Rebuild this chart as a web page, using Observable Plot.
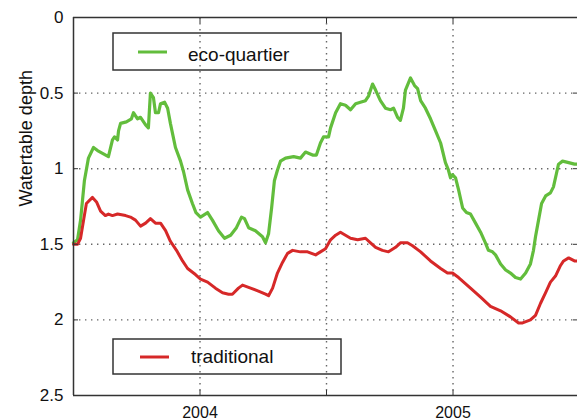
<!DOCTYPE html>
<html><head><meta charset="utf-8">
<script src="https://cdn.jsdelivr.net/npm/d3@7"></script>
<script src="https://cdn.jsdelivr.net/npm/@observablehq/plot@0.6"></script>
<style>
body{margin:0;background:#fff;}
#chart{position:relative;width:577px;height:420px;overflow:hidden;}
#chart svg.legend{position:absolute;left:0;top:0;pointer-events:none;}
</style></head><body><div id="chart"></div>
<script>
const ecoYears = [2003.500,2003.516,2003.528,2003.543,2003.559,2003.579,2003.595,2003.638,2003.654,2003.662,
2003.674,2003.678,2003.686,2003.709,2003.729,2003.737,2003.753,2003.765,2003.785,2003.796,
2003.804,2003.816,2003.824,2003.836,2003.844,2003.860,2003.872,2003.883,2003.903,2003.923,
2003.935,2003.951,2003.970,2003.984,2004.002,2004.030,2004.049,2004.073,2004.097,2004.121,
2004.144,2004.164,2004.176,2004.192,2004.219,2004.247,2004.259,2004.271,2004.283,2004.294,
2004.306,2004.318,2004.338,2004.370,2004.397,2004.417,2004.445,2004.460,2004.476,2004.488,
2004.508,2004.516,2004.536,2004.555,2004.575,2004.595,2004.615,2004.634,2004.654,2004.666,
2004.682,2004.694,2004.713,2004.733,2004.753,2004.765,2004.781,2004.792,2004.804,2004.812,
2004.832,2004.848,2004.860,2004.872,2004.891,2004.911,2004.931,2004.951,2004.970,2004.982,
2004.990,2004.998,2005.010,2005.022,2005.038,2005.053,2005.069,2005.089,2005.109,2005.128,
2005.140,2005.156,2005.168,2005.188,2005.208,2005.227,2005.247,2005.267,2005.287,2005.306,
2005.318,2005.326,2005.338,2005.350,2005.366,2005.385,2005.397,2005.409,2005.417,2005.433,
2005.457,2005.480,2005.492];
const ecoDepth = [1.49,1.47,1.34,1.08,0.93,0.86,0.88,0.92,0.81,0.79,
0.81,0.75,0.70,0.69,0.67,0.63,0.67,0.66,0.71,0.73,
0.50,0.53,0.63,0.63,0.57,0.56,0.60,0.70,0.86,0.95,
1.02,1.14,1.23,1.29,1.32,1.29,1.34,1.41,1.46,1.44,
1.39,1.32,1.33,1.39,1.41,1.45,1.49,1.43,1.26,1.08,
1.01,0.95,0.93,0.92,0.93,0.89,0.91,0.91,0.83,0.79,
0.79,0.73,0.63,0.57,0.58,0.61,0.57,0.56,0.55,0.52,
0.44,0.48,0.55,0.60,0.61,0.60,0.66,0.68,0.60,0.48,
0.40,0.45,0.47,0.55,0.60,0.67,0.75,0.83,0.96,1.01,
1.06,1.04,1.06,1.14,1.26,1.29,1.30,1.36,1.42,1.49,
1.54,1.55,1.57,1.63,1.67,1.69,1.72,1.73,1.69,1.63,
1.54,1.45,1.34,1.23,1.18,1.16,1.12,1.03,0.97,0.95,
0.96,0.97,0.97];
const tradYears = [2003.500,2003.516,2003.528,2003.540,2003.551,2003.575,2003.591,2003.607,2003.626,2003.638,
2003.654,2003.674,2003.706,2003.725,2003.745,2003.765,2003.785,2003.804,2003.824,2003.844,
2003.864,2003.883,2003.907,2003.931,2003.951,2003.982,2004.002,2004.030,2004.061,2004.089,
2004.113,2004.128,2004.152,2004.168,2004.200,2004.231,2004.259,2004.271,2004.287,2004.306,
2004.326,2004.346,2004.366,2004.397,2004.425,2004.457,2004.476,2004.496,2004.516,2004.536,
2004.555,2004.575,2004.595,2004.623,2004.654,2004.674,2004.694,2004.721,2004.745,2004.773,
2004.792,2004.820,2004.840,2004.872,2004.911,2004.951,2004.978,2004.998,2005.022,2005.069,
2005.109,2005.148,2005.188,2005.227,2005.259,2005.275,2005.306,2005.326,2005.346,2005.366,
2005.385,2005.405,2005.425,2005.437,2005.457,2005.480,2005.492];
const tradDepth = [1.50,1.50,1.46,1.34,1.23,1.19,1.22,1.28,1.31,1.30,
1.31,1.30,1.31,1.32,1.34,1.38,1.36,1.33,1.36,1.36,
1.41,1.48,1.54,1.61,1.66,1.70,1.73,1.75,1.79,1.82,
1.83,1.83,1.79,1.77,1.79,1.81,1.83,1.84,1.79,1.69,
1.62,1.56,1.54,1.55,1.55,1.57,1.55,1.53,1.47,1.44,
1.42,1.44,1.46,1.47,1.46,1.49,1.52,1.54,1.55,1.52,
1.49,1.49,1.51,1.55,1.61,1.66,1.69,1.69,1.72,1.79,
1.85,1.91,1.94,1.98,2.02,2.02,2.00,1.97,1.89,1.82,
1.75,1.71,1.64,1.61,1.59,1.61,1.61];
const yTicks = [0, 0.5, 1, 1.5, 2, 2.5];
const xTicks = [2004, 2004.5, 2005];
const xTickLabels = {2004: "2004", 2005: "2005"};
const seriesNames = ["eco-quartier", "traditional"];
const seriesColors = ["#62bd3c", "#d62828"];
const yLabel = "Watertable depth";

const eco = ecoYears.map((x, i) => ({x, y: ecoDepth[i]}));
const trad = tradYears.map((x, i) => ({x, y: tradDepth[i]}));
const font = "'Liberation Sans', Arial, sans-serif";
const gridStyle = {stroke: "#666", strokeOpacity: 1, strokeWidth: 1.4, strokeDasharray: "1.4,4.6"};

const plot = Plot.plot({
  width: 577, height: 420,
  marginLeft: 73, marginRight: 0, marginTop: 17, marginBottom: 25,
  style: {fontFamily: font, fontSize: "16px", color: "#111", background: "white"},
  x: {domain: [2003.5, 2005.492]},
  y: {domain: [0, 2.5], reverse: true},
  marks: [
    Plot.gridX(xTicks, gridStyle),
    Plot.gridY(yTicks.slice(1, -1), gridStyle),
    Plot.line(eco, {x: "x", y: "y", stroke: seriesColors[0], strokeWidth: 3.2}),
    Plot.line(trad, {x: "x", y: "y", stroke: seriesColors[1], strokeWidth: 3}),
    Plot.ruleY([yTicks[0], yTicks[yTicks.length - 1]], {stroke: "#333", strokeWidth: 1.5}),
    Plot.ruleX([2003.5], {stroke: "#333", strokeWidth: 1.5}),
    Plot.axisY(yTicks, {anchor: "left", tickSize: -5, tickPadding: 15, tickFormat: d => String(d), label: null, stroke: "#333", fontSize: 17}),
    Plot.axisY(yTicks, {anchor: "right", tickSize: -5, tickFormat: () => "", label: null, stroke: "#333"}),
    Plot.axisX(xTicks, {anchor: "bottom", tickSize: -5, tickPadding: 16, tickFormat: d => xTickLabels[d] ?? "", label: null, stroke: "#333", fontSize: 16}),
    Plot.axisX(xTicks, {anchor: "top", tickSize: -5, tickFormat: () => "", label: null, stroke: "#333"}),
    Plot.text([yLabel], {frameAnchor: "left", dx: -47, rotate: -90, fontSize: 18, text: d => d, fill: "#111"})
  ]
});
const chart = document.getElementById("chart");
chart.appendChild(plot);

// Legend boxes (overlay)
const leg = d3.select(chart).append("svg").attr("class", "legend")
  .attr("width", 577).attr("height", 420);
const boxes = [
  {name: seriesNames[0], color: seriesColors[0], bx: 113, by: 33, bh: 37, lx: 138, ly: 52, tx: 188, ty: 61},
  {name: seriesNames[1], color: seriesColors[1], bx: 113, by: 339, bh: 35, lx: 140, ly: 357, tx: 191, ty: 363}
];
for (const b of boxes) {
  leg.append("rect").attr("x", b.bx).attr("y", b.by).attr("width", 228).attr("height", b.bh)
    .attr("fill", "none").attr("stroke", "#333").attr("stroke-width", 1.5);
  leg.append("line").attr("x1", b.lx).attr("x2", b.lx + 29).attr("y1", b.ly).attr("y2", b.ly)
    .attr("stroke", b.color).attr("stroke-width", 3);
  leg.append("text").attr("x", b.tx).attr("y", b.ty).text(b.name)
    .attr("font-family", font).attr("font-size", 19).attr("fill", "#111");
}
</script></body></html>
